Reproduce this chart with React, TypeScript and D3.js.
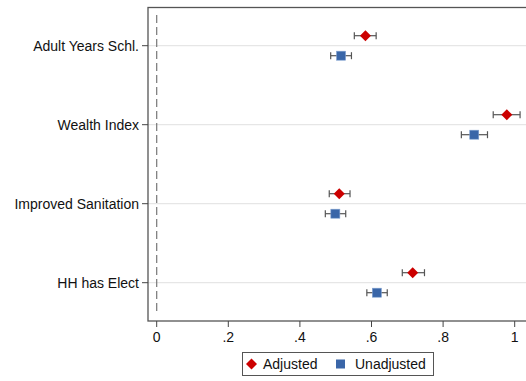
import React from "react";
import * as d3 from "d3";

const categories = ["Adult Years Schl.", "Wealth Index", "Improved Sanitation", "HH has Elect"];
const adjusted = [0.583, 0.978, 0.51, 0.715];
const adjustedLo = [0.552, 0.94, 0.482, 0.686];
const adjustedHi = [0.613, 1.015, 0.54, 0.748];
const unadjusted = [0.515, 0.887, 0.499, 0.615];
const unadjustedLo = [0.486, 0.851, 0.471, 0.587];
const unadjustedHi = [0.544, 0.924, 0.528, 0.644];
const xTicks = [0, 0.2, 0.4, 0.6, 0.8, 1];
const xTickLabels = ["0", ".2", ".4", ".6", ".8", "1"];

const width = 526;
const height = 381;
const plot = { left: 148, top: 7.5, right: 540, bottom: 321 };
const font = "'Liberation Sans', Arial, sans-serif";
const fs = 14;
const red = "#cc0000";
const blue = "#3a66a8";

export default function App() {
  const x = d3.scaleLinear().domain([0, 1]).range([156.7, 514.7]);
  const y = d3.scalePoint<string>().domain(categories).range([45.7, 282.7]);
  const off = 10;

  const series = [
    { name: "Adjusted", vals: adjusted, lo: adjustedLo, hi: adjustedHi, dy: -off, color: red, shape: "diamond" },
    { name: "Unadjusted", vals: unadjusted, lo: unadjustedLo, hi: unadjustedHi, dy: off, color: blue, shape: "square" },
  ];

  const diamond = (cx: number, cy: number, r: number) =>
    `M${cx},${cy - r}L${cx + r},${cy}L${cx},${cy + r}L${cx - r},${cy}Z`;

  return (
    <svg width={width} height={height} style={{ position: "absolute", left: 0, top: 0, background: "#fff" }}>
      {/* gridlines */}
      {categories.map((c) => (
        <line key={"g" + c} x1={plot.left} x2={width} y1={y(c)} y2={y(c)} stroke="#e0e0e0" strokeWidth={1} />
      ))}
      {/* frame */}
      <rect x={plot.left} y={plot.top} width={plot.right - plot.left} height={plot.bottom - plot.top}
        fill="none" stroke="#555" strokeWidth={1.3} />
      {/* reference line at 0 */}
      <line x1={x(0)} x2={x(0)} y1={15} y2={314} stroke="#777" strokeWidth={1.2} strokeDasharray="8,4" />

      {/* y axis */}
      {categories.map((c) => (
        <g key={"y" + c}>
          <line x1={plot.left - 6} x2={plot.left} y1={y(c)} y2={y(c)} stroke="#444" />
          <text x={plot.left - 9} y={y(c)} dy="0.35em" textAnchor="end" fontFamily={font} fontSize={fs} fill="#111">
            {c}
          </text>
        </g>
      ))}

      {/* x axis */}
      {xTicks.map((t, i) => (
        <g key={"x" + t}>
          <line x1={x(t)} x2={x(t)} y1={plot.bottom} y2={plot.bottom + 6} stroke="#444" />
          <text x={x(t)} y={342} textAnchor="middle" fontFamily={font} fontSize={fs} fill="#111">
            {xTickLabels[i]}
          </text>
        </g>
      ))}

      {/* points with CIs */}
      {series.map((s) =>
        categories.map((c, i) => {
          const cy = (y(c) as number) + s.dy;
          const x0 = x(s.lo[i]);
          const x1 = x(s.hi[i]);
          return (
            <g key={s.name + c}>
              <line x1={x0} x2={x1} y1={cy} y2={cy} stroke="#555" strokeWidth={1.2} />
              <line x1={x0} x2={x0} y1={cy - 3.5} y2={cy + 3.5} stroke="#555" strokeWidth={1.2} />
              <line x1={x1} x2={x1} y1={cy - 3.5} y2={cy + 3.5} stroke="#555" strokeWidth={1.2} />
              {s.shape === "diamond" ? (
                <path d={diamond(x(s.vals[i]), cy, 5.5)} fill={s.color} />
              ) : (
                <rect x={x(s.vals[i]) - 4.5} y={cy - 4.5} width={9} height={9} fill={s.color} stroke="#7f9fcf" strokeWidth={0.6} />
              )}
            </g>
          );
        })
      )}

      {/* legend */}
      <rect x={242.5} y={352.5} width={191} height={23} fill="#fff" stroke="#555" strokeWidth={1} />
      <path d={diamond(251.5, 364, 5.5)} fill={red} />
      <text x={263} y={369} fontFamily={font} fontSize={fs} fill="#111">Adjusted</text>
      <rect x={336} y={359.5} width={9} height={9} fill={blue} />
      <text x={355} y={369} fontFamily={font} fontSize={fs} fill="#111">Unadjusted</text>
    </svg>
  );
}
